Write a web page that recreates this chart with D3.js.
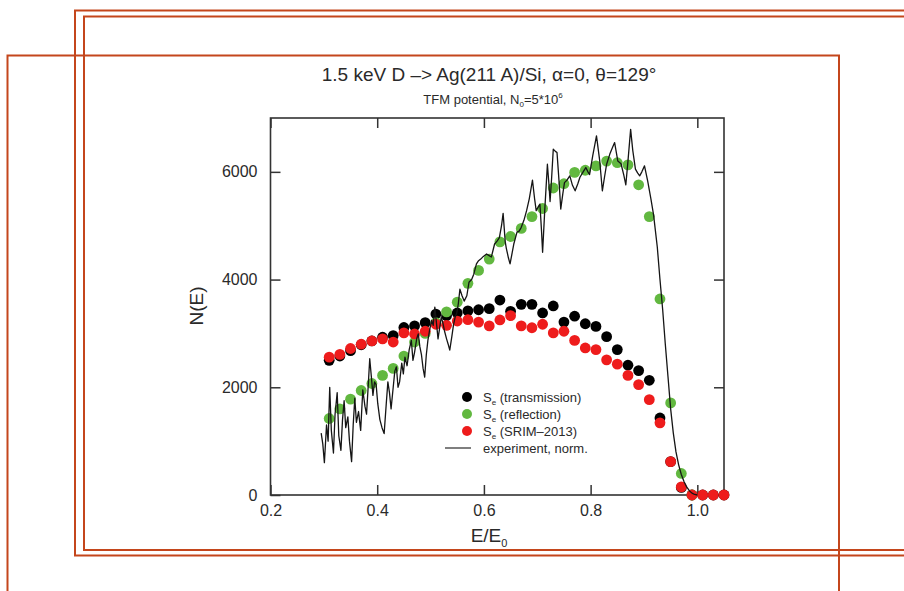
<!DOCTYPE html>
<html>
<head>
<meta charset="utf-8">
<script src="https://cdn.jsdelivr.net/npm/d3@7"></script>
<style>
  body { margin: 0; background: #fff; }
  svg { display: block; }
  text { font-family: "Liberation Sans", Arial, sans-serif; fill: #2a2a2a; }
</style>
</head>
<body>
<svg id="chart" width="904" height="591"></svg>
<script>
// Simulated spectra: reduced energy grid shared by the three simulations
const energies = [0.31,0.33,0.35,0.37,0.39,0.41,0.43,0.45,0.47,0.49,0.51,0.53,0.55,0.57,0.59,0.61,0.63,0.65,0.67,0.69,0.71,0.73,0.75,0.77,0.79,0.81,0.83,0.85,0.87,0.89,0.91,0.93,0.95,0.97,0.99,1.01,1.03,1.05];
const transmission = [2500,2580,2680,2790,2860,2930,2960,3110,3140,3200,3360,3330,3380,3420,3440,3460,3620,3410,3540,3540,3380,3510,3210,3320,3180,3130,2940,2700,2410,2310,2130,1430,620,140,0,0,0,0];
const reflection = [1420,1600,1780,1940,2070,2220,2350,2580,2840,3000,3200,3400,3580,3930,4170,4380,4700,4800,4950,5170,5320,5700,5780,5990,6030,6110,6200,6170,6130,5760,5170,3640,1710,400,0,null,null,null];
const srim = [2560,2610,2720,2800,2860,2900,2840,3010,2990,3040,3170,3150,3230,3255,3210,3140,3250,3330,3140,3105,3170,3010,3040,2870,2730,2700,2510,2430,2220,2050,1770,1340,620,150,0,0,0,0];

// Measured spectrum (normalised)
const expE = [0.295,0.298,0.301,0.305,0.308,0.311,0.314,0.318,0.321,0.325,0.328,0.332,0.335,0.338,0.341,0.345,0.348,0.352,0.355,0.358,0.361,0.365,0.369,0.373,0.377,0.380,0.383,0.386,0.389,0.392,0.395,0.398,0.401,0.405,0.409,0.413,0.417,0.420,0.423,0.426,0.430,0.433,0.436,0.439,0.442,0.446,0.449,0.452,0.456,0.460,0.464,0.467,0.470,0.474,0.477,0.480,0.483,0.486,0.489,0.492,0.495,0.498,0.502,0.505,0.508,0.511,0.514,0.517,0.520,0.523,0.526,0.530,0.533,0.536,0.540,0.543,0.546,0.549,0.552,0.555,0.559,0.563,0.568,0.572,0.577,0.581,0.586,0.590,0.594,0.599,0.605,0.609,0.614,0.620,0.625,0.629,0.633,0.636,0.640,0.642,0.646,0.649,0.653,0.656,0.662,0.666,0.670,0.675,0.680,0.685,0.691,0.695,0.698,0.702,0.705,0.708,0.710,0.714,0.719,0.722,0.724,0.727,0.730,0.734,0.737,0.741,0.744,0.748,0.751,0.756,0.761,0.766,0.771,0.776,0.780,0.786,0.791,0.795,0.798,0.804,0.811,0.817,0.822,0.826,0.830,0.836,0.841,0.845,0.851,0.857,0.862,0.866,0.870,0.875,0.879,0.884,0.888,0.892,0.896,0.901,0.907,0.913,0.918,0.925,0.930,0.935,0.940,0.945,0.950,0.955,0.960,0.965,0.970,0.975,0.980,0.985,0.990,0.995,1.000];
const expN = [1150,950,600,1300,1000,2000,1200,780,1500,1900,1100,830,1400,1750,1250,1450,1000,620,1300,1800,1350,1550,1200,1950,1650,1500,2000,2530,2200,1850,2100,2050,1700,1400,1250,1140,1700,2100,1900,1600,2000,2300,2380,2000,2100,2450,2250,2560,2400,2700,2870,2500,2650,2900,2990,2750,2600,2350,2190,2600,2870,3050,3240,3150,3490,3200,2900,3100,3300,3200,3050,2900,2800,2690,2950,3160,3300,3370,3550,3820,3700,3600,3700,3950,4000,4100,4290,4350,4380,4430,4475,4450,4420,4660,4720,4780,5000,5230,4700,4580,4400,4290,4500,4660,4880,4900,4970,5100,5280,5500,5846,5500,5280,5350,5400,4900,4506,5280,6142,5750,5450,5900,6420,6380,6358,5800,5309,5600,5800,5850,5926,5750,5648,5780,5900,6000,6080,6000,5950,6300,6667,6210,5648,5900,6142,6330,6450,6543,6200,6150,5950,5760,6200,6790,6400,6050,5980,5926,6000,6111,5830,5500,5200,4600,4000,3450,2800,2200,1600,1150,800,560,380,250,150,80,35,10,0];

const xTicks = [0.2, 0.4, 0.6, 0.8, 1.0];
const yTicks = [0, 2000, 4000, 6000];

const svg = d3.select("#chart");
svg.append("rect").attr("width", 904).attr("height", 591).attr("fill", "#fff");

const plot = { left: 270.5, right: 724, top: 118, bottom: 495 };
const x = d3.scaleLinear().domain([0.2, 1.05]).range([plot.left, plot.right]);
const y = d3.scaleLinear().domain([0, 7000]).range([plot.bottom, plot.top]);

// Axes with inward ticks on all four sides
const axisColor = "#333";
function styleAxis(g) {
  g.select(".domain").remove();
  g.selectAll(".tick line").attr("stroke", axisColor).attr("stroke-width", 1.5);
  g.selectAll(".tick text").attr("fill", "#333").style("font-size", "16px")
    .style("font-family", '"Liberation Sans", Arial, sans-serif');
}
svg.append("g").attr("transform", `translate(0,${plot.bottom})`)
  .call(d3.axisBottom(x).tickValues(xTicks).tickFormat(d3.format(".1f")).tickSize(-10).tickPadding(10))
  .call(styleAxis);
svg.append("g").attr("transform", `translate(0,${plot.top})`)
  .call(d3.axisTop(x).tickValues(xTicks).tickFormat("").tickSize(-10))
  .call(styleAxis);
svg.append("g").attr("transform", `translate(${plot.left},0)`)
  .call(d3.axisLeft(y).tickValues(yTicks).tickFormat(d3.format("d")).tickSize(-10).tickPadding(13))
  .call(styleAxis);
svg.append("g").attr("transform", `translate(${plot.right},0)`)
  .call(d3.axisRight(y).tickValues(yTicks).tickFormat("").tickSize(-10))
  .call(styleAxis);

svg.append("rect")
  .attr("x", plot.left).attr("y", plot.top)
  .attr("width", plot.right - plot.left).attr("height", plot.bottom - plot.top)
  .attr("fill", "none").attr("stroke", axisColor).attr("stroke-width", 1.6);

// Simulation markers
const r = 5.4;
function dots(values, color) {
  svg.append("g").selectAll("circle")
    .data(energies.map((e, i) => [e, values[i]]).filter(d => d[1] !== null))
    .join("circle")
    .attr("cx", d => x(d[0])).attr("cy", d => y(d[1]))
    .attr("r", r).attr("fill", color);
}
dots(transmission, "#000");
dots(reflection, "#62b840");
dots(srim, "#ee1c1c");

// Experimental curve
const line = d3.line().x(d => x(d[0])).y(d => y(d[1]));
svg.append("path")
  .datum(d3.zip(expE, expN))
  .attr("d", line)
  .attr("fill", "none").attr("stroke", "#151515").attr("stroke-width", 1.3)
  .attr("stroke-linejoin", "round");

// Titles
svg.append("text").attr("x", 489).attr("y", 81).attr("text-anchor", "middle")
  .style("font-size", "19px")
  .text("1.5 keV D \u2013> Ag(211 A)/Si, \u03b1=0, \u03b8=129\u00b0");
const sub = svg.append("text").attr("x", 493).attr("y", 104).attr("text-anchor", "middle")
  .style("font-size", "13px");
sub.append("tspan").text("TFM potential, N");
sub.append("tspan").attr("dy", 3).style("font-size", "8px").text("0");
sub.append("tspan").attr("dy", -3).text("=5*10");
sub.append("tspan").attr("dy", -6).style("font-size", "8px").text("6");

// Axis labels
svg.append("text").attr("transform", "translate(203,306) rotate(-90)")
  .attr("text-anchor", "middle").style("font-size", "19px").text("N(E)");
const xl = svg.append("text").attr("x", 489).attr("y", 542).attr("text-anchor", "middle")
  .style("font-size", "19px");
xl.append("tspan").text("E/E");
xl.append("tspan").attr("dy", 5).style("font-size", "11px").text("0");

// Legend
const legendItems = [
  { label: " (transmission)", color: "#000" },
  { label: " (reflection)", color: "#62b840" },
  { label: " (SRIM\u20132013)", color: "#ee1c1c" }
];
const legY = [397, 414, 431];
legendItems.forEach((it, i) => {
  svg.append("circle").attr("cx", 467).attr("cy", legY[i]).attr("r", 5).attr("fill", it.color);
  const t = svg.append("text").attr("x", 483).attr("y", legY[i] + 4.5).style("font-size", "13px");
  t.append("tspan").text("S");
  t.append("tspan").attr("dy", 3).style("font-size", "8px").text("e");
  t.append("tspan").attr("dy", -3).text(it.label);
});
svg.append("line").attr("x1", 445).attr("x2", 471).attr("y1", 448).attr("y2", 448)
  .attr("stroke", "#555").attr("stroke-width", 1.5);
svg.append("text").attr("x", 483).attr("y", 452.5).style("font-size", "13px").text("experiment, norm.");

// Surrounding frame lines
const frameColor = "#c4461c";
const frames = [
  [[904, 10.5], [75, 10.5], [75, 555.5], [904, 555.5]],
  [[904, 16.5], [84, 16.5], [84, 550], [904, 550]],
  [[7.5, 591], [7.5, 55.5], [839, 55.5], [839, 591]]
];
frames.forEach(pts => {
  svg.append("path").attr("d", d3.line()(pts))
    .attr("fill", "none").attr("stroke", frameColor).attr("stroke-width", 2);
});
</script>
</body>
</html>
